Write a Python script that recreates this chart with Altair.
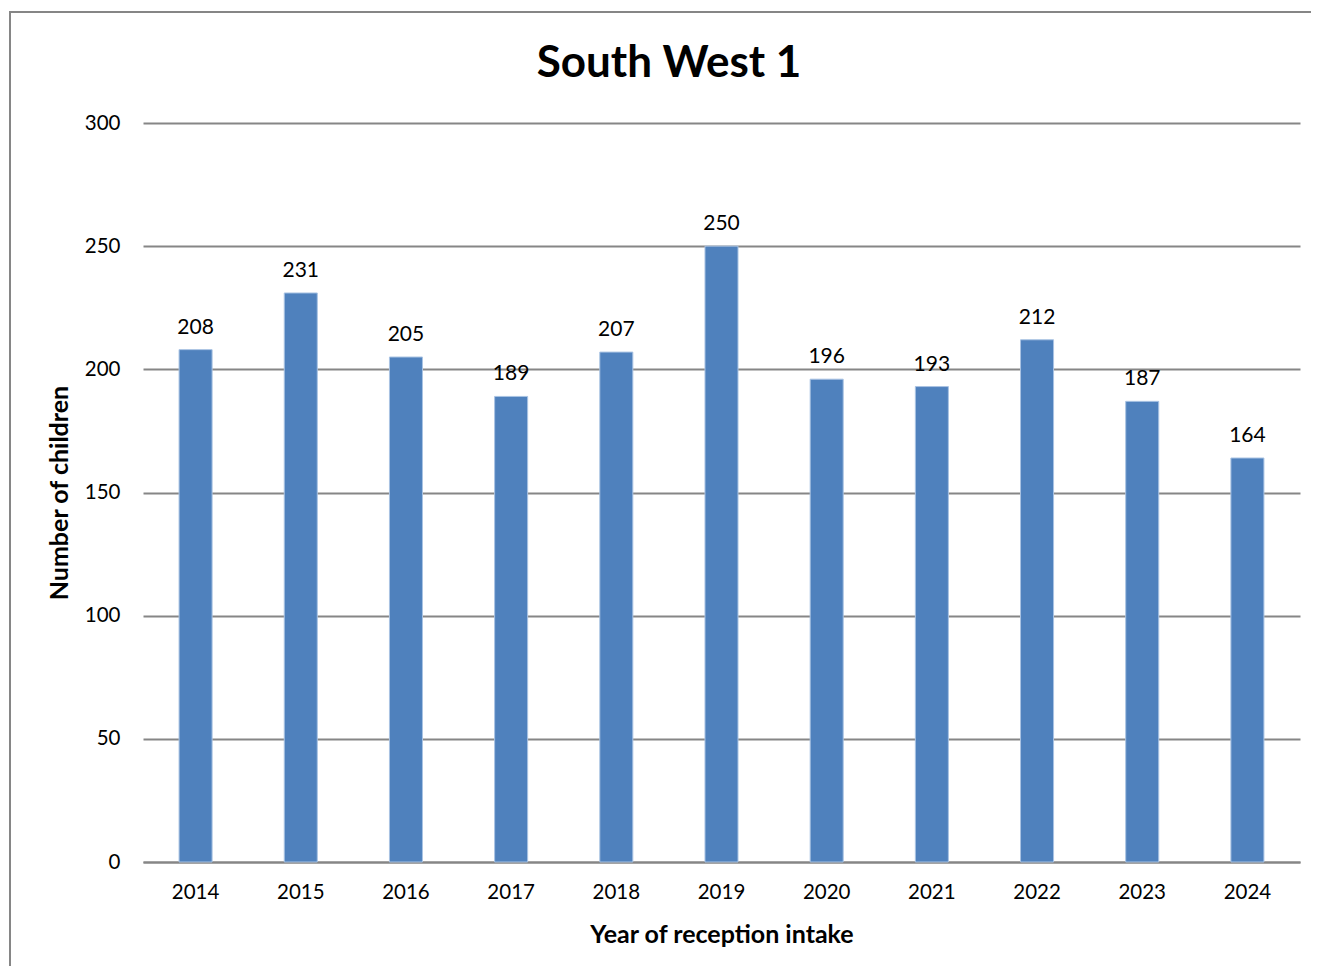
import altair as alt
import pandas as pd

years = ["2014", "2015", "2016", "2017", "2018", "2019", "2020", "2021", "2022", "2023", "2024"]
children = [208, 231, 205, 189, 207, 250, 196, 193, 212, 187, 164]

df = pd.DataFrame({"year": years, "children": children})

FONT = "Lato"
W, H = 1157, 739

x_enc = alt.X("year:N", sort=years,
              scale=alt.Scale(paddingInner=0.686, paddingOuter=0.343),
              axis=alt.Axis(title="Year of reception intake", labelAngle=0,
                            labelFont=FONT, labelFontSize=20.5, labelColor="#000000",
                            labelPadding=20, ticks=False, domain=True,
                            domainColor="#868686", domainWidth=2,
                            titleFont=FONT, titleFontSize=25, titleFontWeight="bold",
                            titleColor="#000000", titlePadding=20, grid=False))
y_enc = alt.Y("children:Q",
              scale=alt.Scale(domain=[0, 300], nice=False),
              axis=alt.Axis(title="Number of children", values=[0, 50, 100, 150, 200, 250, 300],
                            labelFont=FONT, labelFontSize=20.5, labelColor="#000000",
                            labelPadding=23, ticks=False, domain=False,
                            grid=True, gridColor="#868686", gridWidth=2,
                            titleFont=FONT, titleFontSize=25, titleFontWeight="bold",
                            titleColor="#000000", titlePadding=12))

base = alt.Chart(df)

bars = base.mark_bar(color="#4F81BD", stroke="#A9C3E3", strokeWidth=1).encode(x=x_enc, y=y_enc)

labels = base.mark_text(font=FONT, fontSize=21, color="#000000", baseline="bottom", dy=-12).encode(
    x=alt.X("year:N", sort=years), y=alt.Y("children:Q"), text="children:Q")

border = alt.Chart(pd.DataFrame({"a": [0]})).mark_rect(
    fill="transparent", stroke="#868686", strokeWidth=2, clip=False).encode(
    x=alt.value(-133), x2=alt.value(1300), y=alt.value(-111), y2=alt.value(1000))

title = alt.Chart(pd.DataFrame({"t": ["South West 1"]})).mark_text(
    font=FONT, fontSize=44, fontWeight="bold", color="#000000", baseline="alphabetic",
    align="center").encode(x=alt.value(526), y=alt.value(-46), text="t:N")

chart = alt.layer(border, bars, labels, title).properties(
    width=W, height=H,
    background="#ffffff",
    autosize=alt.AutoSizeParams(type="none"),
    padding={"left": 135, "top": 115, "right": 11, "bottom": 104},
).configure_view(stroke=None)

chart.save("out.html", embed_options={"renderer": "svg", "actions": False})
